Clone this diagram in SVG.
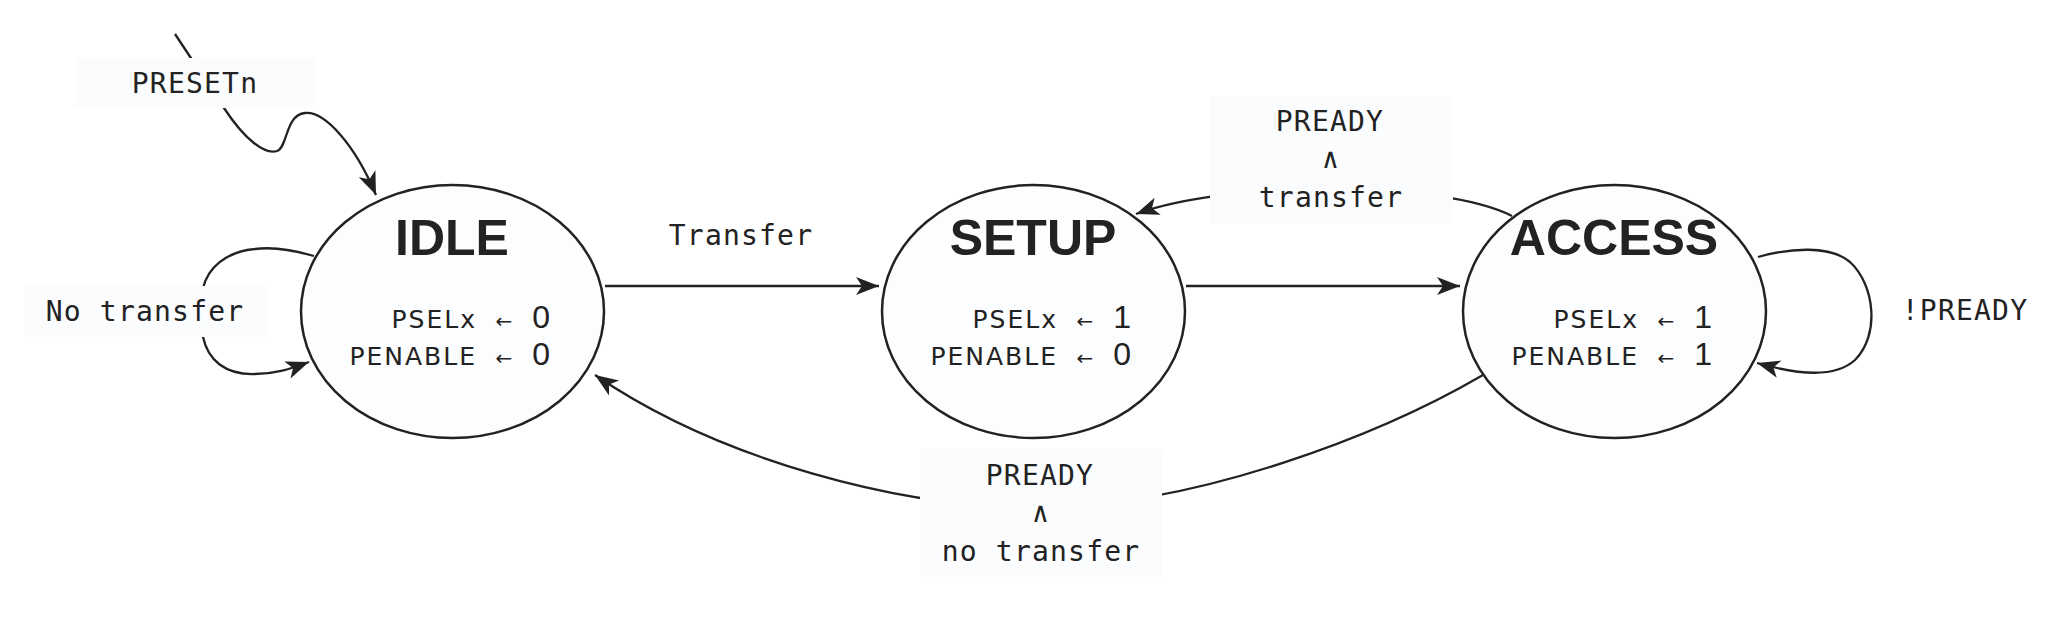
<svg xmlns="http://www.w3.org/2000/svg" width="2051" height="640" viewBox="0 0 2051 640">
<style>
.bg{fill:#ffffff}
.st{fill:#fcfdfe;stroke:#222;stroke-width:2.5}
.title{font-family:"Liberation Sans",Arial,sans-serif;font-weight:bold;font-size:50px;fill:#222;text-anchor:middle}
.var{font-family:"DejaVu Sans",Verdana,sans-serif;font-size:25px;letter-spacing:2px;fill:#222;text-anchor:end}
.arr{font-family:"DejaVu Sans",sans-serif;font-size:20px;fill:#222;text-anchor:middle}
.dig{font-family:"Liberation Sans",Arial,sans-serif;font-size:32px;fill:#222;text-anchor:end}
.edge{fill:none;stroke:#222;stroke-width:2.3}
.lblbg{fill:#fbfcfe}
.lbl{font-family:"DejaVu Sans Mono",monospace;font-size:28px;letter-spacing:1.2px;fill:#222;text-anchor:middle}
</style>
<defs>
<marker id="ah" viewBox="-25 -12 27 24" markerWidth="27" markerHeight="24" refX="0" refY="0" orient="auto" markerUnits="userSpaceOnUse">
<path d="M0,0 L-23,-9 L-17,0 L-23,9 Z" fill="#222"/>
</marker>
</defs>
<rect class="bg" x="0" y="0" width="2051" height="640"/>

<g id="connectors">
<path class="edge" d="M175,34 L224,108 C245,140 265,155 277,151 C288,147 285,115 305,113 C325,111 355,145 376,195" marker-end="url(#ah)"/>
<path class="edge" d="M314,256 C290,249 270,247 255,249 C225,252 208,268 203,288 L203,337 C208,360 225,375 255,374 C275,374 290,369 309,362" marker-end="url(#ah)"/>
<path class="edge" d="M605,286 L879,286" marker-end="url(#ah)"/>
<path class="edge" d="M1186,286 L1460,286" marker-end="url(#ah)"/>
<path class="edge" d="M1512,216 C1440,180 1230,180 1136,214" marker-end="url(#ah)"/>
<path class="edge" d="M1758,257 C1790,248 1830,245 1850,262 C1875,285 1880,335 1855,360 C1835,378 1800,375 1757,363" marker-end="url(#ah)"/>
<path class="edge" d="M1483,375 C1380,435 1200,505 1040,508 C900,508 720,460 595,375" marker-end="url(#ah)"/>

<rect class="lblbg" x="75" y="58" width="240" height="50"/>
<text class="lbl" x="195" y="93">PRESETn</text>
<rect class="lblbg" x="24" y="286" width="243" height="51"/>
<text class="lbl" x="145" y="321">No transfer</text>
<text class="lbl" x="741" y="245">Transfer</text>
<rect class="lblbg" x="1210" y="96" width="243" height="128"/>
<text class="lbl" x="1330" y="131">PREADY</text>
<text class="lbl" x="1331" y="168">∧</text>
<text class="lbl" x="1331" y="207">transfer</text>
<rect class="lblbg" x="920" y="449" width="242" height="128"/>
<text class="lbl" x="1040" y="485">PREADY</text>
<text class="lbl" x="1041" y="522">∧</text>
<text class="lbl" x="1041" y="561">no transfer</text>
<text class="lbl" x="1965" y="320">!PREADY</text>
</g>

<g id="idle">
<ellipse class="st" cx="452.5" cy="311.5" rx="151.5" ry="126.5"/>
<text class="title" x="452" y="255">IDLE</text>
<text class="var" x="477" y="328">PSELx</text>
<text class="arr" x="504" y="328">←</text>
<text class="dig" x="550" y="328">0</text>
<text class="var" x="477" y="365">PENABLE</text>
<text class="arr" x="504" y="365">←</text>
<text class="dig" x="550" y="365">0</text>
</g>

<g id="setup">
<ellipse class="st" cx="1033.5" cy="311.5" rx="151.5" ry="126.5"/>
<text class="title" x="1033" y="255">SETUP</text>
<text class="var" x="1058" y="328">PSELx</text>
<text class="arr" x="1085" y="328">←</text>
<text class="dig" x="1131" y="328">1</text>
<text class="var" x="1058" y="365">PENABLE</text>
<text class="arr" x="1085" y="365">←</text>
<text class="dig" x="1131" y="365">0</text>
</g>

<g id="access">
<ellipse class="st" cx="1614.5" cy="311.5" rx="151.5" ry="126.5"/>
<text class="title" x="1614" y="255">ACCESS</text>
<text class="var" x="1639" y="328">PSELx</text>
<text class="arr" x="1666" y="328">←</text>
<text class="dig" x="1712" y="328">1</text>
<text class="var" x="1639" y="365">PENABLE</text>
<text class="arr" x="1666" y="365">←</text>
<text class="dig" x="1712" y="365">1</text>
</g>
</svg>
